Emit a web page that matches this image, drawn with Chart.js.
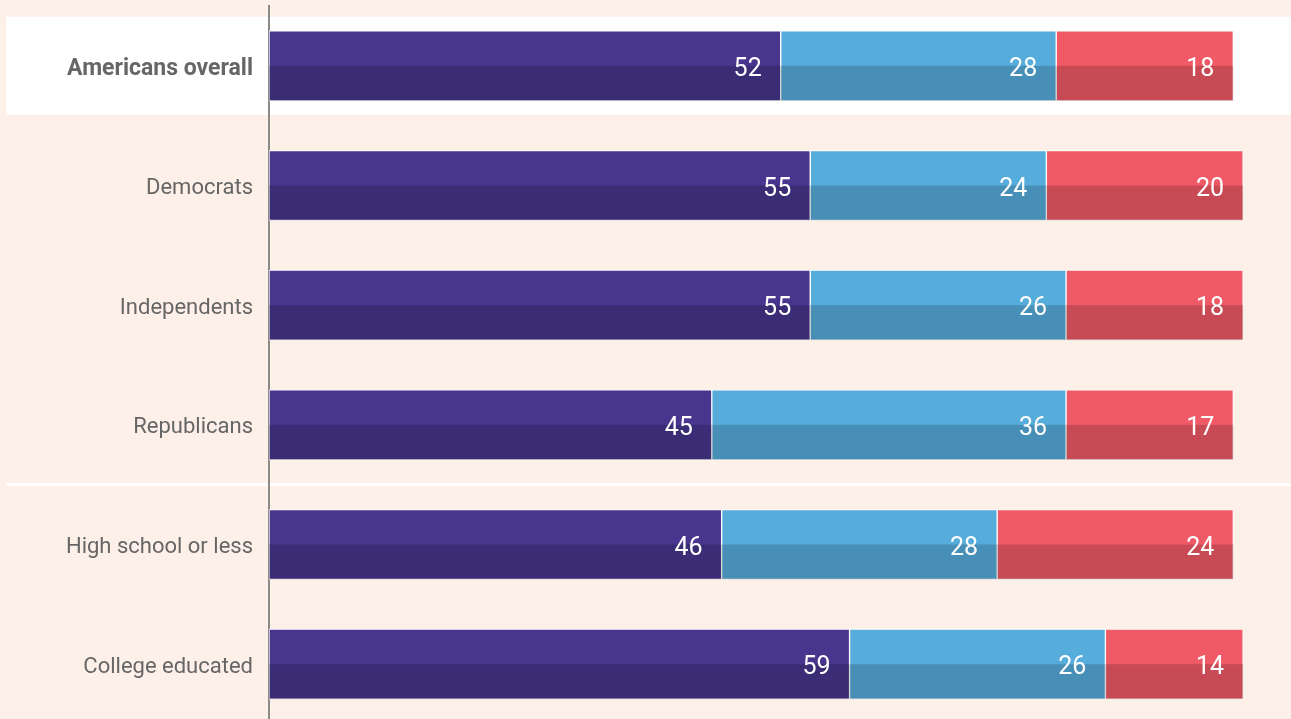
<!DOCTYPE html>
<html>
<head>
<meta charset="utf-8">
<script src="https://cdn.jsdelivr.net/npm/chart.js@4"></script>
<style>
  html, body { margin: 0; padding: 0; background: #fdf0e8; overflow: hidden; }
  #wrap { width: 1291px; height: 724px; position: relative; }
</style>
</head>
<body>
<div id="wrap"><canvas id="surveyChart"></canvas></div>
<script>
const groups = ['Americans overall', 'Democrats', 'Independents', 'Republicans', 'High school or less', 'College educated'];
const purpleValues = [52, 55, 55, 45, 46, 59];
const blueValues = [28, 24, 26, 36, 28, 26];
const redValues = [18, 20, 18, 17, 24, 14];

// white highlight behind the first row + separator line between groups
const rowBackground = {
    id: 'rowBackground',
    beforeDraw(chart) {
        const c = chart.ctx;
        const y = chart.scales.y;
        const p0 = y.getPixelForValue(0);
        c.save();
        c.fillStyle = '#ffffff';
        c.fillRect(6, p0 - 49, chart.width - 6, 98);
        const sep = (y.getPixelForValue(3) + y.getPixelForValue(4)) / 2;
        c.fillRect(6, sep - 1.5, chart.width - 6, 3);
        c.restore();
    }
};

// darker bottom half on each bar, then the value labels
const barShading = {
    id: 'barShading',
    afterDatasetsDraw(chart) {
        const c = chart.ctx;
        c.save();
        chart.data.datasets.forEach(function(ds, i) {
            const meta = chart.getDatasetMeta(i);
            meta.data.forEach(function(bar, j) {
                const p = bar.getProps(['x', 'y', 'base', 'height'], true);
                c.fillStyle = 'rgba(0, 0, 0, 0.17)';
                c.fillRect(p.base, p.y, p.x - p.base, p.height / 2);
                c.fillStyle = '#ffffff';
                c.font = '25px Roboto';
                c.textAlign = 'right';
                c.textBaseline = 'middle';
                c.fillText(ds.data[j], p.x - 19, p.y + 4);
            });
        });
        c.restore();
    }
};

new Chart(document.getElementById('surveyChart').getContext('2d'), {
    type: 'bar',
    data: {
        labels: groups,
        datasets: [
            { data: purpleValues, backgroundColor: '#47358e' },
            { data: blueValues, backgroundColor: '#56acdb' },
            { data: redValues, backgroundColor: '#f05a66' }
        ]
    },
    options: {
        indexAxis: 'y',
        responsive: true,
        maintainAspectRatio: false,
        animation: false,
        layout: { padding: { top: 6, right: 38, bottom: 0, left: 0 } },
        datasets: {
            bar: {
                barThickness: 70,
                borderColor: '#ffffff',
                borderWidth: 1,
                borderSkipped: false
            }
        },
        plugins: {
            legend: { display: false },
            tooltip: { enabled: false }
        },
        scales: {
            x: {
                stacked: true,
                min: 0,
                max: 100,
                display: false
            },
            y: {
                stacked: true,
                grid: { display: false, drawTicks: false },
                border: { display: true, color: '#8a8a8a', width: 2 },
                afterFit: function(scale) {
                    scale.width = 269;
                    scale.paddingTop = 0;
                    scale.paddingBottom = 0;
                },
                ticks: {
                    padding: 16,
                    labelOffset: 3,
                    color: '#666666',
                    font: function(ctx) {
                        return ctx.index === 0
                            ? { family: 'Roboto', size: 23, weight: 'bold' }
                            : { family: 'Roboto', size: 22 };
                    }
                }
            }
        }
    },
    plugins: [rowBackground, barShading]
});
</script>
</body>
</html>
